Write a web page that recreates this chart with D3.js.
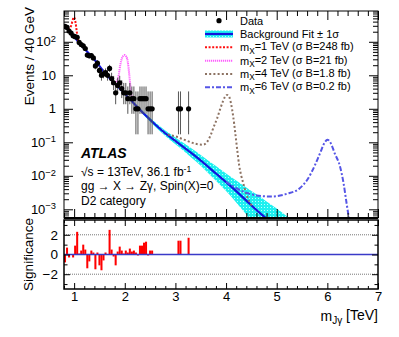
<!DOCTYPE html>
<head>
    <meta charset="utf-8">
    <title>Zgamma D2</title>
    <script type="text/javascript" src="https://d3js.org/d3.v7.min.js"></script>
    <style>
        body { margin: 0; background: #fff; }
        text { font-family: "Liberation Sans", Arial, sans-serif; fill: #000; }
    </style>
</head>
<body>
<div id="container"></div>
<script>
    //---------------------------DATA--------------------------------//
    // observed events per 40 GeV bin (bin centre in TeV), empty bins left out
    const dataMass = [0.82, 0.86, 0.90, 0.94, 0.98, 1.02, 1.06, 1.10, 1.14, 1.18, 1.22, 1.26, 1.30, 1.34, 1.38,
        1.42, 1.46, 1.50, 1.54, 1.58, 1.62, 1.66, 1.70, 1.74, 1.78, 1.82, 1.86, 1.90, 1.94, 1.98, 2.02, 2.06,
        2.10, 2.14, 2.18, 2.22, 2.26, 2.30, 2.34, 2.38, 2.42, 2.46, 2.50, 2.54, 3.06, 3.10, 3.26];
    const dataCounts = [288, 268, 210, 182, 151, 142, 136, 96, 83, 76, 63, 40, 38, 39, 33,
        19, 23, 14, 10, 11, 12, 10, 16, 8, 6, 3, 5, 6, 4, 3, 3, 2,
        3, 2, 2, 1, 1, 2, 2, 2, 2, 1, 1, 1, 1, 1, 1];

    // background fit and its 1 sigma band
    const fitMass = [0.8, 1.0, 1.2, 1.4, 1.6, 1.8, 2.0, 2.2, 2.4, 2.6, 2.8, 3.0, 3.2, 3.4, 3.6, 3.8, 4.0,
        4.2, 4.4, 4.6, 4.8, 5.0, 5.2, 5.4];
    const fitValue = [330, 141, 63, 29.5, 12.0, 5.75, 2.82, 1.35, 0.66, 0.34, 0.186, 0.11, 0.065, 0.038,
        0.0214, 0.0117, 0.0065, 0.0035, 0.00182, 0.00095, 0.00052, 0.00028, 0.000145, 0.00008];
    const fitLow = [320, 137, 61, 28.5, 11.5, 5.45, 2.65, 1.25, 0.59, 0.29, 0.155, 0.088, 0.05, 0.027,
        0.0142, 0.0071, 0.0035, 0.0016, 0.0007, 0.0003, 0.00012, 0.00004, 0.00001, 0.000003];
    const fitHigh = [340, 145, 65, 30.5, 12.6, 6.05, 3.0, 1.46, 0.74, 0.40, 0.225, 0.14, 0.087, 0.054,
        0.0325, 0.0195, 0.0118, 0.0072, 0.0045, 0.0028, 0.0017, 0.00105, 0.00062, 0.0004];

    // signal + background curves
    const sig1Mass = [0.88, 0.91, 0.94, 0.97, 0.99, 1.01, 1.03, 1.05, 1.07, 1.09];
    const sig1Value = [235, 250, 300, 430, 540, 500, 360, 210, 130, 100];
    const sig2Mass = [1.80, 1.84, 1.88, 1.91, 1.94, 1.97, 2.00, 2.03, 2.06, 2.09, 2.12, 2.15];
    const sig2Value = [6, 6.5, 10, 20, 31, 38, 40, 36, 25, 10, 3.5, 1.7];
    const sig4Mass = [2.85, 3.0, 3.2, 3.4, 3.55, 3.62, 3.7, 3.76, 3.82, 3.88, 3.94, 3.98, 4.02, 4.06, 4.10,
        4.14, 4.18, 4.22, 4.26, 4.30, 4.34, 4.40, 4.46, 4.52];
    const sig4Value = [0.17, 0.15, 0.115, 0.09, 0.085, 0.1, 0.17, 0.3, 0.5, 0.95, 1.7, 2.3, 2.6, 2.3, 1.4,
        0.6, 0.2, 0.06, 0.02, 0.01, 0.006, 0.0028, 0.0017, 0.0012];
    const sig6Mass = [4.0, 4.3, 4.6, 4.9, 5.2, 5.45, 5.6, 5.75, 5.85, 5.95, 6.0, 6.05, 6.15, 6.25, 6.32,
        6.38, 6.43];
    const sig6Value = [0.0066, 0.0036, 0.0026, 0.0024, 0.0029, 0.0042, 0.0075, 0.02, 0.045, 0.1, 0.12,
        0.105, 0.045, 0.019, 0.006, 0.0015, 0.0005];

    // significance per bin
    const signifMass = [0.82, 0.86, 0.90, 0.94, 0.98, 1.02, 1.06, 1.10, 1.14, 1.18, 1.22, 1.26, 1.30, 1.34,
        1.38, 1.42, 1.46, 1.50, 1.54, 1.58, 1.62, 1.66, 1.70, 1.74, 1.78, 1.82, 1.86, 1.90, 1.94, 1.98,
        2.02, 2.06, 2.10, 2.14, 2.18, 2.22, 2.26, 2.30, 2.34, 2.38, 2.42, 2.46, 2.50, 2.54, 2.58, 2.62,
        3.06, 3.10, 3.26];
    const signifValue = [-0.8, 0.7, -0.3, 0.0, -0.3, 0.9, 2.3, 0.1, 0.4, 1.0, 0.5, -1.4, -0.7, 0.4,
        0.2, -1.5, 0.2, -1.1, -1.6, -0.6, 0.2, 0.0, 2.5, 0.5, -0.2, -1.1, 0.3, 0.8, 0.4, 0.1,
        0.4, 0.2, 0.6, 0.3, 0.4, 0.2, -0.1, 0.9, 0.9, 1.2, 1.3, -0.1, 0.4, 0.4, 0.0, 0.0,
        1.4, 1.4, 1.7];

    const xTicks = [1, 2, 3, 4, 5, 6, 7];
    const yMajor = [1e-3, 1e-2, 1e-1, 1, 10, 100];
    const sTicks = [-2, 0, 2];

    const legendLabels = ["Data", "Background Fit \u00b1 1\u03c3",
        "=1 TeV (\u03c3 B=248 fb)", "=2 TeV (\u03c3 B=21 fb)",
        "=4 TeV (\u03c3 B=1.8 fb)", "=6 TeV (\u03c3 B=0.2 fb)"];

    //---------------------------SVG---------------------------------//
    const W = 399, H = 337;
    const pL = 64, pR = 378, pT = 11, mainB = 218, lowT = 220, lowB = 289;
    const binW = 0.04;

    const svg = d3.select("div#container").append("svg")
        .attr("width", W).attr("height", H);

    const x = d3.scaleLinear().domain([0.8, 7]).range([pL, pR]);
    const y = d3.scaleLog().domain([5.5e-4, 830]).range([mainB, pT]);
    const s = d3.scaleLinear().domain([-3.5, 3.5]).range([lowB, lowT]);

    const xMinor = d3.range(8, 71, 2).map(d => d / 10).filter(d => Math.abs(d - Math.round(d)) > 1e-6);
    const yMinor = [];
    for (let e = -4; e <= 2; e++) for (let k = 2; k <= 9; k++) {
        const v = k * Math.pow(10, e);
        if (v >= 5.5e-4 && v <= 830) yMinor.push(v);
    }

    const defs = svg.append("defs");
    defs.append("clipPath").attr("id", "clipMain").append("rect")
        .attr("x", pL).attr("y", pT).attr("width", pR - pL).attr("height", mainB - pT);
    defs.append("clipPath").attr("id", "clipLow").append("rect")
        .attr("x", pL).attr("y", lowT).attr("width", pR - pL).attr("height", lowB - lowT);

    // hatched cyan band
    const pat = defs.append("pattern").attr("id", "hatch").attr("patternUnits", "userSpaceOnUse")
        .attr("width", 3).attr("height", 3);
    pat.append("rect").attr("width", 3).attr("height", 3).attr("fill", "#1ff0f0");
    pat.append("rect").attr("width", 1).attr("height", 1).attr("fill", "#b8ffff");

    //---------------------------MAIN PANEL--------------------------//
    const main = svg.append("g").attr("clip-path", "url(#clipMain)");

    const fitPts = fitMass.map((m, i) => ({m: m, v: fitValue[i], lo: fitLow[i], hi: fitHigh[i]}));
    main.append("path")
        .attr("d", d3.area().curve(d3.curveMonotoneX)
            .x(d => x(d.m)).y0(d => y(d.lo)).y1(d => y(d.hi))(fitPts))
        .attr("fill", "url(#hatch)");
    main.append("path")
        .attr("d", d3.line().curve(d3.curveMonotoneX).x(d => x(d.m)).y(d => y(d.v))(fitPts))
        .attr("fill", "none").attr("stroke", "#1414dc").attr("stroke-width", 2.2);

    const sigStyles = [
        {m: sig1Mass, v: sig1Value, color: "#ff1010", dash: "2,1.6", w: 2},
        {m: sig2Mass, v: sig2Value, color: "#ff5cff", dash: "1.2,0.8", w: 2},
        {m: sig4Mass, v: sig4Value, color: "#8c7262", dash: "2,2.2", w: 2},
        {m: sig6Mass, v: sig6Value, color: "#5555e6", dash: "5,2,2,2", w: 2}
    ];
    sigStyles.forEach(function(c) {
        const pts = c.m.map((m, i) => [m, c.v[i]]);
        main.append("path")
            .attr("d", d3.line().curve(d3.curveMonotoneX).x(d => x(d[0])).y(d => y(d[1]))(pts))
            .attr("fill", "none").attr("stroke", c.color)
            .attr("stroke-width", c.w).attr("stroke-dasharray", c.dash);
    });

    // poisson (Garwood) error bars
    const garwood = {1: [0.173, 3.300], 2: [0.708, 4.638], 3: [1.367, 5.918], 4: [2.086, 7.163],
        5: [2.840, 8.382], 6: [3.620, 9.584], 8: [5.236, 11.94], 10: [6.914, 14.27]};
    function errs(n) {
        if (garwood[n]) return garwood[n];
        return [n - Math.sqrt(n + 0.25) + 0.5, n + Math.sqrt(n + 0.25) + 0.5];
    }
    const pts = dataMass.map((m, i) => ({m: m, n: dataCounts[i], e: errs(dataCounts[i])}));
    main.selectAll(".err").data(pts).enter().append("line")
        .attr("x1", d => x(d.m)).attr("x2", d => x(d.m))
        .attr("y1", d => y(Math.max(d.e[0], 1e-4))).attr("y2", d => y(d.e[1]))
        .attr("stroke", "#555").attr("stroke-width", 1);
    main.selectAll(".dot").data(pts).enter().append("circle")
        .attr("cx", d => x(d.m)).attr("cy", d => y(d.n)).attr("r", 2.6).attr("fill", "#000");

    //---------------------------MAIN AXES---------------------------//
    function strip(g) { g.select(".domain").remove(); g.selectAll("text").remove(); }
    svg.append("g").attr("transform", `translate(0,${mainB})`)
        .call(d3.axisBottom(x).tickValues(xTicks).tickSize(-9)).call(strip);
    svg.append("g").attr("transform", `translate(0,${mainB})`)
        .call(d3.axisBottom(x).tickValues(xMinor).tickSize(-5)).call(strip);
    svg.append("g").attr("transform", `translate(0,${pT})`)
        .call(d3.axisTop(x).tickValues(xTicks).tickSize(-9)).call(strip);
    svg.append("g").attr("transform", `translate(0,${pT})`)
        .call(d3.axisTop(x).tickValues(xMinor).tickSize(-5)).call(strip);
    svg.append("g").attr("transform", `translate(${pR},0)`)
        .call(d3.axisRight(y).tickValues(yMajor).tickSize(-9)).call(strip);
    svg.append("g").attr("transform", `translate(${pR},0)`)
        .call(d3.axisRight(y).tickValues(yMinor).tickSize(-5)).call(strip);
    svg.append("g").attr("transform", `translate(${pL},0)`)
        .call(d3.axisLeft(y).tickValues(yMinor).tickSize(-5)).call(strip);

    const gy = svg.append("g").attr("transform", `translate(${pL},0)`)
        .call(d3.axisLeft(y).tickValues(yMajor).tickSize(-9).tickPadding(8).tickFormat(() => ""));
    gy.select(".domain").remove();
    gy.selectAll(".tick text").attr("font-size", 13).attr("font-family", null)
        .each(function(d) {
            const t = d3.select(this);
            const e = Math.round(Math.log10(d));
            if (e === 0) { t.text("1"); return; }
            if (e === 1) { t.text("10"); return; }
            t.append("tspan").text("10");
            t.append("tspan").attr("dy", "-0.5em").attr("font-size", "0.72em")
                .text(e < 0 ? "\u2212" + (-e) : String(e));
        });
    svg.selectAll(".tick line").attr("stroke", "#000");

    svg.append("rect").attr("x", pL).attr("y", pT)
        .attr("width", pR - pL).attr("height", mainB - pT)
        .attr("fill", "none").attr("stroke", "#000").attr("stroke-width", 1);
    svg.append("line").attr("x1", pL).attr("x2", pR)
        .attr("y1", mainB).attr("y2", mainB)
        .attr("stroke", "#000").attr("stroke-width", 2);

    svg.append("text").attr("transform", `translate(34,${pT - 4}) rotate(-90)`)
        .attr("text-anchor", "end").attr("font-size", 13.5).text("Events / 40 GeV");

    //---------------------------ATLAS LABEL-------------------------//
    svg.append("text").attr("x", 81).attr("y", 158).attr("font-size", 14)
        .attr("font-weight", "bold").attr("font-style", "italic").text("ATLAS");
    const l1 = svg.append("text").attr("x", 81).attr("y", 176).attr("font-size", 12);
    l1.append("tspan").text("\u221as = 13TeV, 36.1 fb");
    l1.append("tspan").attr("dy", "-0.45em").attr("font-size", "0.72em").text("-1");
    svg.append("text").attr("x", 81).attr("y", 190).attr("font-size", 12)
        .text("gg \u2192 X \u2192 Z\u03b3, Spin(X)=0");
    svg.append("text").attr("x", 81).attr("y", 205).attr("font-size", 12).text("D2 category");

    //---------------------------LEGEND------------------------------//
    const legY = [20.7, 34, 47.3, 60.7, 74, 87.3];
    const lx0 = 205, lx1 = 233, ltx = 240;
    svg.append("circle").attr("cx", (lx0 + lx1) / 2).attr("cy", legY[0]).attr("r", 2.6).attr("fill", "#000");
    svg.append("rect").attr("x", lx0).attr("y", legY[1] - 3.5).attr("width", lx1 - lx0).attr("height", 7)
        .attr("fill", "url(#hatch)");
    svg.append("line").attr("x1", lx0).attr("x2", lx1).attr("y1", legY[1]).attr("y2", legY[1])
        .attr("stroke", "#1414dc").attr("stroke-width", 2.2);
    sigStyles.forEach(function(c, i) {
        svg.append("line").attr("x1", lx0).attr("x2", lx1)
            .attr("y1", legY[i + 2]).attr("y2", legY[i + 2])
            .attr("stroke", c.color).attr("stroke-width", c.w).attr("stroke-dasharray", c.dash);
    });
    legendLabels.forEach(function(lab, i) {
        const t = svg.append("text").attr("x", ltx).attr("y", legY[i] + 4).attr("font-size", 11);
        if (i < 2) { t.text(lab); return; }
        t.append("tspan").text("m");
        t.append("tspan").attr("dy", "0.3em").attr("font-size", "0.75em").text("X");
        t.append("tspan").attr("dy", "-0.3em").text(lab);
    });

    //---------------------------LOWER PANEL-------------------------//
    const low = svg.append("g").attr("clip-path", "url(#clipLow)");
    low.selectAll(".dash").data([-2, 2]).enter().append("line")
        .attr("x1", pL).attr("x2", pR).attr("y1", d => s(d)).attr("y2", d => s(d))
        .attr("stroke", "#777").attr("stroke-width", 1).attr("stroke-dasharray", "1,1");
    low.selectAll(".bar").data(signifMass.map((m, i) => ({m: m, v: signifValue[i]})))
        .enter().append("rect")
        .attr("x", d => x(d.m - binW / 2)).attr("width", d => x(d.m + binW / 2) - x(d.m - binW / 2))
        .attr("y", d => s(Math.max(d.v, 0))).attr("height", d => Math.abs(s(d.v) - s(0)))
        .attr("fill", "#ff0000");
    low.append("line").attr("x1", pL).attr("x2", pR).attr("y1", s(0)).attr("y2", s(0))
        .attr("stroke", "#3a3ac8").attr("stroke-width", 1.6);

    const sMinor = [-3, -1, 1, 3];
    const gx = svg.append("g").attr("transform", `translate(0,${lowB})`)
        .call(d3.axisBottom(x).tickValues(xTicks).tickSize(-6).tickPadding(3).tickFormat(d3.format("d")));
    gx.select(".domain").remove();
    gx.selectAll("text").attr("font-size", 13).attr("font-family", null);
    svg.append("g").attr("transform", `translate(0,${lowB})`)
        .call(d3.axisBottom(x).tickValues(xMinor).tickSize(-3)).call(strip);
    svg.append("g").attr("transform", `translate(0,${lowT})`)
        .call(d3.axisTop(x).tickValues(xTicks).tickSize(-6)).call(strip);
    svg.append("g").attr("transform", `translate(0,${lowT})`)
        .call(d3.axisTop(x).tickValues(xMinor).tickSize(-3)).call(strip);
    const gs = svg.append("g").attr("transform", `translate(${pL},0)`)
        .call(d3.axisLeft(s).tickValues(sTicks).tickSize(-6).tickPadding(6)
            .tickFormat(d => d < 0 ? "\u2212" + (-d) : String(d)));
    gs.select(".domain").remove();
    gs.selectAll("text").attr("font-size", 13.5).attr("font-family", null);
    svg.append("g").attr("transform", `translate(${pL},0)`)
        .call(d3.axisLeft(s).tickValues(sMinor).tickSize(-3.5)).call(strip);
    svg.append("g").attr("transform", `translate(${pR},0)`)
        .call(d3.axisRight(s).tickValues(sTicks).tickSize(-6)).call(strip);
    svg.append("g").attr("transform", `translate(${pR},0)`)
        .call(d3.axisRight(s).tickValues(sMinor).tickSize(-3.5)).call(strip);
    svg.selectAll(".tick line").attr("stroke", "#000");

    svg.append("rect").attr("x", pL).attr("y", lowT)
        .attr("width", pR - pL).attr("height", lowB - lowT)
        .attr("fill", "none").attr("stroke", "#000").attr("stroke-width", 1.5);

    svg.append("text").attr("transform", `translate(33,${(lowT + lowB) / 2}) rotate(-90)`)
        .attr("text-anchor", "middle").attr("font-size", 13.5).text("Significance");

    const xl = svg.append("text").attr("x", pR).attr("y", 321)
        .attr("text-anchor", "end").attr("font-size", 14);
    xl.append("tspan").text("m");
    xl.append("tspan").attr("dy", "0.3em").attr("font-size", "0.72em").text("J\u03b3");
    xl.append("tspan").attr("dy", "-0.3em").text(" [TeV]");
</script>
</body>
